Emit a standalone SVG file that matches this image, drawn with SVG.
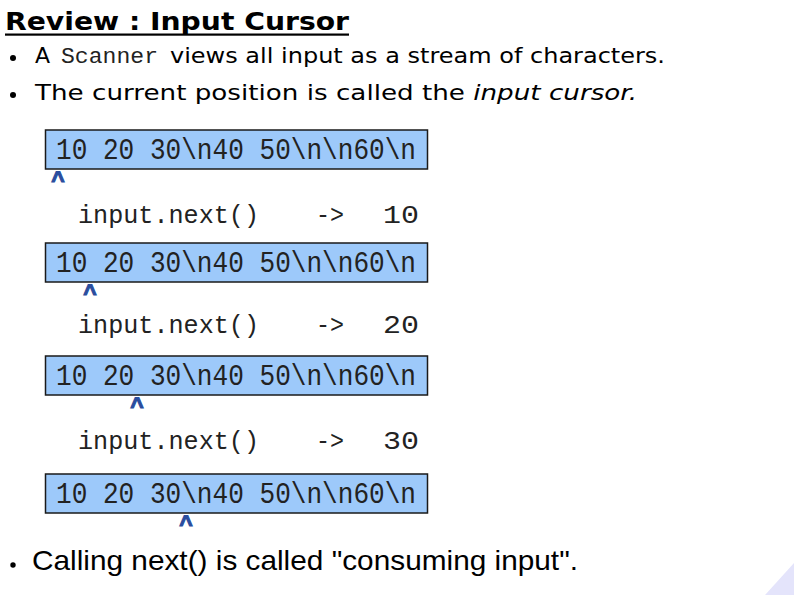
<svg xmlns="http://www.w3.org/2000/svg" width="794" height="595" viewBox="0 0 794 595">
<style>
.body{font-family:"DejaVu Sans","Verdana",sans-serif;font-size:22px;fill:#000}
.mono{font-family:"Liberation Mono","Courier New",monospace;fill:#222}
.box{fill:#9dc9fa;stroke:#1a1a1a;stroke-width:1.5}
.bt{font-family:"Liberation Mono","Courier New",monospace;font-size:28.7px;fill:#222}
.it{font-family:"Liberation Mono","Courier New",monospace;font-size:25.7px;fill:#222}
.caret{font-family:"Liberation Sans",Arial,sans-serif;font-weight:bold;font-size:23px;fill:#2a4d9e;stroke:#2a4d9e;stroke-width:1.1;text-anchor:middle}
</style>
<rect width="794" height="595" fill="#fff"/>
<polygon points="794,563 765,595 794,595" fill="#e4e4fb"/>
<g id="title">
<text x="5" y="30" font-family="DejaVu Sans, Verdana, sans-serif" font-weight="bold" font-size="25" textLength="344" lengthAdjust="spacingAndGlyphs">Review : Input Cursor</text>
<rect x="5" y="33.5" width="344" height="2.2" fill="#000"/>
</g>
<g id="bullet1">
<circle cx="13" cy="58" r="3" fill="#000"/>
<text class="body" x="35" y="63">A</text>
<text class="mono" x="61" y="63" font-size="22.8" textLength="97" lengthAdjust="spacingAndGlyphs">Scanner</text>
<text class="body" x="170" y="63" textLength="495" lengthAdjust="spacingAndGlyphs">views all input as a stream of characters.</text>
</g>
<g id="bullet2">
<circle cx="13" cy="95" r="3" fill="#000"/>
<text class="body" x="35" y="100" textLength="602" lengthAdjust="spacingAndGlyphs">The current position is called the <tspan font-style="italic">input cursor.</tspan></text>
</g>
<g id="box1">
<rect class="box" x="45.5" y="130" width="382" height="39"/>
<text class="bt" x="56" y="159" textLength="360" lengthAdjust="spacingAndGlyphs">10 20 30\n40 50\n\n60\n</text>
<text class="caret" x="58" y="188">^</text>
</g>
<g id="step1">
<text class="it" x="78" y="223" textLength="181" lengthAdjust="spacingAndGlyphs">input.next()</text>
<text class="it" x="316" y="223" textLength="28" lengthAdjust="spacingAndGlyphs">-&gt;</text>
<text class="it" x="383" y="223" textLength="36" lengthAdjust="spacingAndGlyphs">10</text>
</g>
<g id="box2">
<rect class="box" x="45.5" y="243" width="382" height="39"/>
<text class="bt" x="56" y="272" textLength="360" lengthAdjust="spacingAndGlyphs">10 20 30\n40 50\n\n60\n</text>
<text class="caret" x="90" y="301">^</text>
</g>
<g id="step2">
<text class="it" x="78" y="333" textLength="181" lengthAdjust="spacingAndGlyphs">input.next()</text>
<text class="it" x="316" y="333" textLength="28" lengthAdjust="spacingAndGlyphs">-&gt;</text>
<text class="it" x="383" y="333" textLength="36" lengthAdjust="spacingAndGlyphs">20</text>
</g>
<g id="box3">
<rect class="box" x="45.5" y="356" width="382" height="39"/>
<text class="bt" x="56" y="385" textLength="360" lengthAdjust="spacingAndGlyphs">10 20 30\n40 50\n\n60\n</text>
<text class="caret" x="137" y="414">^</text>
</g>
<g id="step3">
<text class="it" x="78" y="449" textLength="181" lengthAdjust="spacingAndGlyphs">input.next()</text>
<text class="it" x="316" y="449" textLength="28" lengthAdjust="spacingAndGlyphs">-&gt;</text>
<text class="it" x="383" y="449" textLength="36" lengthAdjust="spacingAndGlyphs">30</text>
</g>
<g id="box4">
<rect class="box" x="45.5" y="474" width="382" height="39"/>
<text class="bt" x="56" y="503" textLength="360" lengthAdjust="spacingAndGlyphs">10 20 30\n40 50\n\n60\n</text>
<text class="caret" x="186" y="532">^</text>
</g>
<g id="bullet3">
<circle cx="13" cy="565" r="2.7" fill="#000"/>
<text x="32" y="570" font-family="Liberation Sans, Arial, sans-serif" font-size="28" textLength="546" lengthAdjust="spacingAndGlyphs">Calling next() is called "consuming input".</text>
</g>
<g id="connectors"></g>
</svg>
